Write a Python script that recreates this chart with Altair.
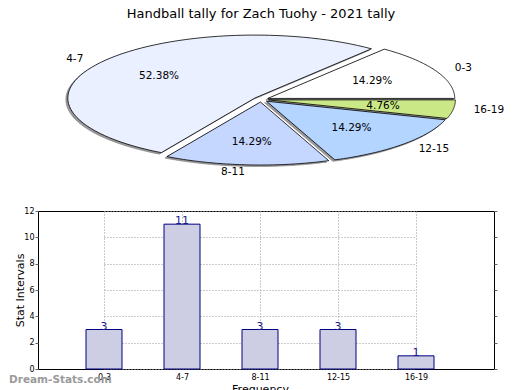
import altair as alt
import pandas as pd

title_text = "Handball tally for Zach Tuohy - 2021 tally"
categories = ["0-3", "4-7", "8-11", "12-15", "16-19"]
counts = [3, 11, 3, 3, 1]
pie_colors = ["#ffffff", "#eaf0ff", "#c5d7ff", "#b3d5ff", "#cbe887"]
y_ticks = [0, 2, 4, 6, 8, 10, 12]
y_title = "Stat Intervals"
x_title = "Frequency"
watermark = "Dream-Stats.com"

FONT = "DejaVu Sans"
N = 72            # arc resolution
RX, RY, EXP = 187, 63, 0.04
ORIGIN = 37       # expected page x of the plot area's left edge
PW, PH = 493 - ORIGIN, 195
CX, CY = 260 - ORIGIN, 91.5
BW, BH = PW, 158
XR = [103 - ORIGIN, 415 - ORIGIN]

total = sum(counts)
starts = []
acc = 0
for c in counts:
    starts.append(acc)
    acc += c

slice_df = pd.DataFrame({"cat": categories, "count": counts, "start": starts, "total": total})
poly_df = pd.DataFrame(
    [dict(cat=cat, count=c, start=s, total=total, k=k)
     for cat, c, s in zip(categories, counts, starts) for k in range(N + 3)]
)

xs = alt.Scale(domain=[-CX, PW - CX], nice=False, zero=False)
ys = alt.Scale(domain=[CY - PH, CY], nice=False, zero=False)
fill_scale = alt.Scale(domain=categories, range=pie_colors)


def geom(chart):
    return chart.transform_calculate(
        a0="2*PI*datum.start/datum.total",
        a1="2*PI*(datum.start+datum.count)/datum.total",
        mid="(datum.a0+datum.a1)/2",
    )


poly = geom(alt.Chart(poly_df)).transform_calculate(
    ang=f"datum.a0+(datum.a1-datum.a0)*(datum.k-1)/{N}",
    rim=f"(datum.k==0||datum.k=={N + 2})?0:1",
    px=f"datum.rim*{RX}*cos(datum.ang)+{EXP}*{RX}*cos(datum.mid)",
    py=f"datum.rim*{RY}*sin(datum.ang)+{EXP}*{RY}*sin(datum.mid)",
    sx="datum.px-2",
    sy="datum.py-1.5",
)

shadow = poly.mark_line(filled=True, fill="#9a9a9a", stroke="#7a7a7a", strokeWidth=0.6).encode(
    x=alt.X("sx:Q", scale=xs, axis=None),
    y=alt.Y("sy:Q", scale=ys, axis=None),
    detail="cat:N",
    order="k:Q",
)
slices = poly.mark_line(filled=True, stroke="black", strokeWidth=0.8).encode(
    x=alt.X("px:Q", scale=xs, axis=None),
    y=alt.Y("py:Q", scale=ys, axis=None),
    fill=alt.Fill("cat:N", scale=fill_scale, legend=None),
    order="k:Q",
)

lab = geom(alt.Chart(slice_df)).transform_calculate(
    pct="format(datum.count/datum.total,'.2%')",
    lx=f"{0.62 + EXP}*{RX}*cos(datum.mid)",
    ly=f"{0.63 + EXP}*{RY}*sin(datum.mid)",
    ox=f"1.15*{RX}*cos(datum.mid)",
    oy=f"1.15*{RY}*sin(datum.mid)",
)
pct_text = lab.mark_text(fontSize=10.5, baseline="middle", color="black").encode(
    x=alt.X("lx:Q", scale=xs, axis=None),
    y=alt.Y("ly:Q", scale=ys, axis=None),
    text="pct:N",
)
out_right = lab.transform_filter("cos(datum.mid)>=0").mark_text(
    fontSize=10.5, baseline="middle", align="left", color="black"
).encode(
    x=alt.X("ox:Q", scale=xs, axis=None),
    y=alt.Y("oy:Q", scale=ys, axis=None),
    text="cat:N",
)
out_left = lab.transform_filter("cos(datum.mid)<0").mark_text(
    fontSize=10.5, baseline="middle", align="right", color="black"
).encode(
    x=alt.X("ox:Q", scale=xs, axis=None),
    y=alt.Y("oy:Q", scale=ys, axis=None),
    text="cat:N",
)
title = alt.Chart(pd.DataFrame({"t": [title_text]})).mark_text(
    fontSize=13, baseline="top", align="center", color="black"
).encode(text="t:N", x=alt.value(CX), y=alt.value(0))

pie = alt.layer(shadow, slices, pct_text, out_right, out_left, title).properties(
    width=PW, height=PH, view=alt.ViewBackground(stroke=None)
)

bar_df = pd.DataFrame({"cat": categories, "count": counts})
xenc = alt.X(
    "cat:N", sort=categories,
    scale=alt.Scale(type="point", padding=0, range=XR),
    axis=alt.Axis(labelAngle=0, labelFontSize=8, labelPadding=4, tickSize=0,
                  grid=True, gridDash=[1, 2], gridColor="#999", domain=False,
                  title=x_title, titleFontSize=11, titleFontWeight="normal", titlePadding=2),
)
yenc = alt.Y(
    "count:Q", scale=alt.Scale(domain=[0, 12], nice=False),
    axis=alt.Axis(values=y_ticks, labelFontSize=8, labelPadding=1, tickSize=3, tickColor="#666",
                  grid=True, gridDash=[1, 2], gridColor="#999", domain=False,
                  title=y_title, titleFontSize=11, titleFontWeight="normal",
                  titleX=-18, titleY=BH / 2, titleAngle=270, titleBaseline="middle", titleAlign="center"),
)
bars = alt.Chart(bar_df).mark_bar(width=36, fill="#cdcde3", stroke="#000080", strokeWidth=1).encode(
    x=xenc, y=yenc
)
values = alt.Chart(bar_df).mark_text(baseline="bottom", dy=2, fontSize=11, color="#1a1a8c").encode(
    x=alt.X("cat:N", sort=categories), y=alt.Y("count:Q", axis=None), text="count:Q"
)
right_ticks = alt.Chart(bar_df).mark_point(opacity=0).encode(
    x=alt.X("cat:N", sort=categories),
    y=alt.Y("count:Q", axis=alt.Axis(orient="right", values=y_ticks, labels=False, tickSize=3,
                                      tickColor="#666", grid=False, domain=False, title=None)),
)
wm = alt.Chart(pd.DataFrame({"t": [watermark]})).mark_text(
    fontSize=10.5, fontWeight="bold", align="left", baseline="middle", color="#9a9a9a"
).encode(text="t:N", x=alt.value(8 - ORIGIN), y=alt.value(BH + 11))

bar_chart = alt.layer(bars, values, right_ticks, wm).resolve_axis(y="independent").properties(
    width=BW, height=BH, view=alt.ViewBackground(stroke="black", strokeWidth=1)
)

chart = alt.vconcat(pie, bar_chart, spacing=8, bounds="flush").properties(
    padding=0,
).configure(font=FONT).configure_view(stroke=None)

chart.save("out.html", embed_options={"renderer": "svg", "actions": False})
